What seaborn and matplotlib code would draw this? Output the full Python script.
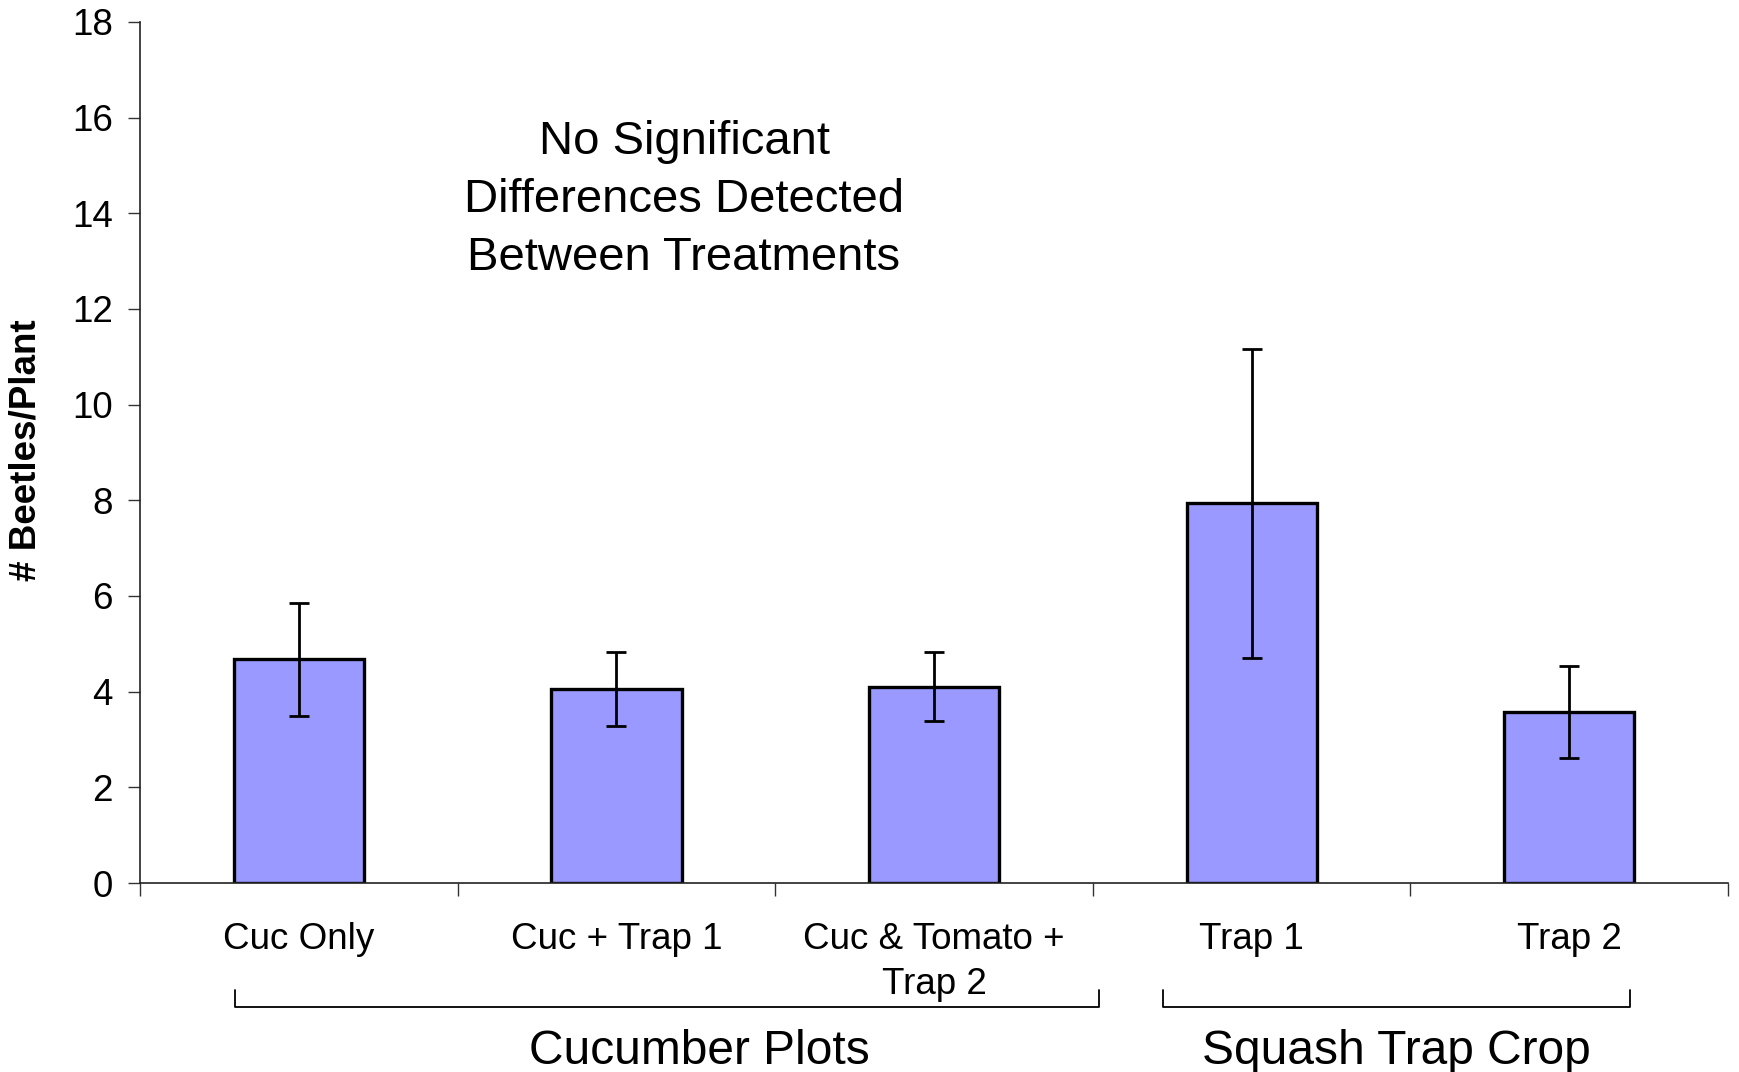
import numpy as np
import pandas as pd
import seaborn as sns
import matplotlib.pyplot as plt
from matplotlib.transforms import blended_transform_factory

# values
treatments = ["Cuc Only", "Cuc + Trap 1", "Cuc & Tomato +\nTrap 2", "Trap 1", "Trap 2"]
beetles_per_plant = [4.68, 4.05, 4.10, 7.94, 3.58]
std_err = [1.18, 0.77, 0.72, 3.23, 0.96]
group_names = ["Cucumber Plots", "Squash Trap Crop"]
group_members = [[0, 1, 2], [3, 4]]
note = "No Significant\nDifferences Detected\nBetween Treatments"

sns.set_style("white")
plt.rcParams["font.family"] = ["Liberation Sans", "DejaVu Sans"]
for key in ["text.color", "axes.labelcolor", "xtick.color", "ytick.color"]:
    plt.rcParams[key] = "black"

df = pd.DataFrame({"treatment": treatments, "beetles": beetles_per_plant, "se": std_err})

fig = plt.figure(figsize=(17.39, 10.72), dpi=100)
ax = fig.add_axes([0.0805, 0.1763, 0.9132, 0.8032])

sns.barplot(data=df, x="treatment", y="beetles", color="#9999FF", saturation=1,
            width=0.41, edgecolor="black", linewidth=2.4, errorbar=None, ax=ax)
ax.errorbar(np.arange(len(df)), df["beetles"], yerr=df["se"], fmt="none",
            ecolor="black", elinewidth=2.0, capsize=7.5, capthick=2.0)

ax.set_xlim(-0.5, len(treatments) - 0.5)
ax.set_ylim(0, 18)
ax.set_yticks(range(0, 19, 2))
ax.set_xticks(np.arange(-0.5, len(treatments)), minor=True)
ax.tick_params(axis="x", which="major", bottom=True, length=0, pad=28, labelsize=26.5)
ax.tick_params(axis="x", which="minor", bottom=True, length=9.5, width=1.0,
               direction="out", color="#333333")
ax.tick_params(axis="y", left=True, length=8.5, width=1.0, direction="out",
               color="#333333", labelsize=26.5, pad=11)
for lbl in ax.get_xticklabels():
    lbl.set_linespacing(1.36)

for side in ["top", "right"]:
    ax.spines[side].set_visible(False)
for side in ["left", "bottom"]:
    ax.spines[side].set_color("#222222")
    ax.spines[side].set_linewidth(1.2)

ax.set_xlabel("")
ax.set_ylabel("# Beetles/Plant", fontsize=26.5, fontweight="bold")
ax.yaxis.set_label_coords(-0.061, 0.503)

ax.text(1.213, 14.27, note, ha="center", va="center", fontsize=34, linespacing=1.41)

# group brackets below the category labels
trans = blended_transform_factory(ax.transData, fig.transFigure)
bracket_spans = [(-0.2, 0.52), (-0.28, 0.19)]
label_shift = [0.1, 0.0]
for name, members, (lo_off, hi_off), shift in zip(group_names, group_members,
                                                   bracket_spans, label_shift):
    x0 = members[0] + lo_off
    x1 = members[-1] + hi_off
    ax.plot([x0, x0, x1, x1], [0.0765, 0.0606, 0.0606, 0.0765], color="black",
            linewidth=1.3, transform=trans, clip_on=False)
    ax.text((x0 + x1) / 2 + shift, 0.019, name, ha="center", va="center",
            fontsize=34.5, transform=trans)

fig.savefig("out.png", dpi=100)
